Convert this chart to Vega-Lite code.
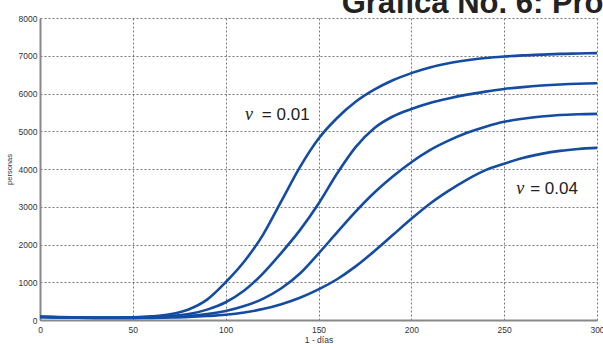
{
  "$schema": "https://vega.github.io/schema/vega-lite/v6.json",
  "width": 557,
  "height": 302,
  "autosize": {"type": "none"},
  "padding": {"left": 40, "top": 18, "right": 6, "bottom": 24},
  "background": "white",
  "config": {
    "view": {"stroke": null},
    "axis": {"domainColor": "#888888", "domainWidth": 2, "labelFont": "Liberation Sans", "labelFontSize": 8.5, "labelColor": "#333333", "ticks": false, "gridColor": "#555555", "gridDash": [2, 2], "gridWidth": 0.8, "titleFont": "Liberation Sans", "titleFontWeight": "normal", "titleColor": "#333333", "labelFlush": false, "labelOverlap": false, "labelBound": false, "labelSeparation": 0}
  },
  "datasets": {
    "curves": [
      {"day": 0, "v": "0.01", "n": 90}, {"day": 10, "v": "0.01", "n": 78}, {"day": 20, "v": "0.01", "n": 68}, {"day": 30, "v": "0.01", "n": 62}, {"day": 40, "v": "0.01", "n": 62}, {"day": 50, "v": "0.01", "n": 70}, {"day": 60, "v": "0.01", "n": 95}, {"day": 70, "v": "0.01", "n": 150}, {"day": 80, "v": "0.01", "n": 280}, {"day": 90, "v": "0.01", "n": 540}, {"day": 100, "v": "0.01", "n": 1000}, {"day": 110, "v": "0.01", "n": 1550}, {"day": 120, "v": "0.01", "n": 2250}, {"day": 130, "v": "0.01", "n": 3150}, {"day": 140, "v": "0.01", "n": 4050}, {"day": 150, "v": "0.01", "n": 4800}, {"day": 160, "v": "0.01", "n": 5350}, {"day": 170, "v": "0.01", "n": 5780}, {"day": 180, "v": "0.01", "n": 6100}, {"day": 190, "v": "0.01", "n": 6350}, {"day": 200, "v": "0.01", "n": 6540}, {"day": 210, "v": "0.01", "n": 6690}, {"day": 220, "v": "0.01", "n": 6800}, {"day": 230, "v": "0.01", "n": 6880}, {"day": 240, "v": "0.01", "n": 6940}, {"day": 250, "v": "0.01", "n": 6980}, {"day": 260, "v": "0.01", "n": 7010}, {"day": 270, "v": "0.01", "n": 7030}, {"day": 280, "v": "0.01", "n": 7050}, {"day": 290, "v": "0.01", "n": 7060}, {"day": 300, "v": "0.01", "n": 7070},
      {"day": 0, "v": "0.02", "n": 85}, {"day": 10, "v": "0.02", "n": 74}, {"day": 20, "v": "0.02", "n": 65}, {"day": 30, "v": "0.02", "n": 60}, {"day": 40, "v": "0.02", "n": 58}, {"day": 50, "v": "0.02", "n": 62}, {"day": 60, "v": "0.02", "n": 75}, {"day": 70, "v": "0.02", "n": 100}, {"day": 80, "v": "0.02", "n": 155}, {"day": 90, "v": "0.02", "n": 275}, {"day": 100, "v": "0.02", "n": 470}, {"day": 110, "v": "0.02", "n": 780}, {"day": 120, "v": "0.02", "n": 1230}, {"day": 130, "v": "0.02", "n": 1780}, {"day": 140, "v": "0.02", "n": 2380}, {"day": 150, "v": "0.02", "n": 3080}, {"day": 160, "v": "0.02", "n": 3880}, {"day": 170, "v": "0.02", "n": 4580}, {"day": 180, "v": "0.02", "n": 5080}, {"day": 190, "v": "0.02", "n": 5390}, {"day": 200, "v": "0.02", "n": 5590}, {"day": 210, "v": "0.02", "n": 5750}, {"day": 220, "v": "0.02", "n": 5870}, {"day": 230, "v": "0.02", "n": 5970}, {"day": 240, "v": "0.02", "n": 6050}, {"day": 250, "v": "0.02", "n": 6120}, {"day": 260, "v": "0.02", "n": 6170}, {"day": 270, "v": "0.02", "n": 6210}, {"day": 280, "v": "0.02", "n": 6240}, {"day": 290, "v": "0.02", "n": 6260}, {"day": 300, "v": "0.02", "n": 6270},
      {"day": 0, "v": "0.03", "n": 80}, {"day": 10, "v": "0.03", "n": 70}, {"day": 20, "v": "0.03", "n": 62}, {"day": 30, "v": "0.03", "n": 57}, {"day": 40, "v": "0.03", "n": 55}, {"day": 50, "v": "0.03", "n": 57}, {"day": 60, "v": "0.03", "n": 65}, {"day": 70, "v": "0.03", "n": 80}, {"day": 80, "v": "0.03", "n": 110}, {"day": 90, "v": "0.03", "n": 160}, {"day": 100, "v": "0.03", "n": 240}, {"day": 110, "v": "0.03", "n": 370}, {"day": 120, "v": "0.03", "n": 560}, {"day": 130, "v": "0.03", "n": 840}, {"day": 140, "v": "0.03", "n": 1230}, {"day": 150, "v": "0.03", "n": 1760}, {"day": 160, "v": "0.03", "n": 2320}, {"day": 170, "v": "0.03", "n": 2870}, {"day": 180, "v": "0.03", "n": 3370}, {"day": 190, "v": "0.03", "n": 3800}, {"day": 200, "v": "0.03", "n": 4180}, {"day": 210, "v": "0.03", "n": 4500}, {"day": 220, "v": "0.03", "n": 4750}, {"day": 230, "v": "0.03", "n": 4960}, {"day": 240, "v": "0.03", "n": 5120}, {"day": 250, "v": "0.03", "n": 5250}, {"day": 260, "v": "0.03", "n": 5330}, {"day": 270, "v": "0.03", "n": 5390}, {"day": 280, "v": "0.03", "n": 5430}, {"day": 290, "v": "0.03", "n": 5450}, {"day": 300, "v": "0.03", "n": 5460},
      {"day": 0, "v": "0.04", "n": 75}, {"day": 10, "v": "0.04", "n": 66}, {"day": 20, "v": "0.04", "n": 58}, {"day": 30, "v": "0.04", "n": 54}, {"day": 40, "v": "0.04", "n": 52}, {"day": 50, "v": "0.04", "n": 52}, {"day": 60, "v": "0.04", "n": 55}, {"day": 70, "v": "0.04", "n": 65}, {"day": 80, "v": "0.04", "n": 80}, {"day": 90, "v": "0.04", "n": 105}, {"day": 100, "v": "0.04", "n": 140}, {"day": 110, "v": "0.04", "n": 200}, {"day": 120, "v": "0.04", "n": 290}, {"day": 130, "v": "0.04", "n": 420}, {"day": 140, "v": "0.04", "n": 590}, {"day": 150, "v": "0.04", "n": 810}, {"day": 160, "v": "0.04", "n": 1080}, {"day": 170, "v": "0.04", "n": 1420}, {"day": 180, "v": "0.04", "n": 1820}, {"day": 190, "v": "0.04", "n": 2250}, {"day": 200, "v": "0.04", "n": 2680}, {"day": 210, "v": "0.04", "n": 3080}, {"day": 220, "v": "0.04", "n": 3420}, {"day": 230, "v": "0.04", "n": 3720}, {"day": 240, "v": "0.04", "n": 3970}, {"day": 250, "v": "0.04", "n": 4140}, {"day": 260, "v": "0.04", "n": 4290}, {"day": 270, "v": "0.04", "n": 4400}, {"day": 280, "v": "0.04", "n": 4480}, {"day": 290, "v": "0.04", "n": 4530}, {"day": 300, "v": "0.04", "n": 4560}
    ],
    "heading": [
      {"day": 162.5, "n": 8135, "t": "Gráfica No. 6: Proyección"}
    ],
    "nu": [
      {"day": 110.4, "n": 5430, "t": "ν"},
      {"day": 256.5, "n": 3470, "t": "ν"}
    ],
    "eq": [
      {"day": 119.5, "n": 5430, "t": "= 0.01"},
      {"day": 264, "n": 3470, "t": "= 0.04"}
    ]
  },
  "layer": [
    {
      "data": {"name": "curves"},
      "mark": {"type": "line", "interpolate": "monotone", "strokeWidth": 2.6, "color": "#134ca1"},
      "encoding": {
        "x": {"field": "day", "type": "quantitative", "scale": {"domain": [0, 300], "nice": false}, "axis": {"tickCount": 6, "title": "1 - días", "titleFontSize": 8.5, "labelPadding": 5, "titlePadding": 2}},
        "y": {"field": "n", "type": "quantitative", "scale": {"domain": [0, 8000], "nice": false}, "axis": {"tickCount": 8, "format": "d", "title": "personas", "titleFontSize": 7.5, "labelPadding": 3, "titlePadding": 5}},
        "detail": {"field": "v", "type": "nominal"}
      }
    },
    {
      "data": {"name": "heading"},
      "mark": {"type": "text", "align": "left", "baseline": "alphabetic", "font": "Liberation Sans", "fontWeight": "bold", "fontSize": 31, "color": "#222222", "clip": false},
      "encoding": {
        "x": {"field": "day", "type": "quantitative"},
        "y": {"field": "n", "type": "quantitative"},
        "text": {"field": "t"}
      }
    },
    {
      "data": {"name": "nu"},
      "mark": {"type": "text", "align": "left", "baseline": "middle", "font": "Liberation Serif", "fontStyle": "italic", "fontSize": 18, "color": "#222222"},
      "encoding": {
        "x": {"field": "day", "type": "quantitative"},
        "y": {"field": "n", "type": "quantitative"},
        "text": {"field": "t"}
      }
    },
    {
      "data": {"name": "eq"},
      "mark": {"type": "text", "align": "left", "baseline": "middle", "font": "Liberation Sans", "fontSize": 17, "color": "#222222"},
      "encoding": {
        "x": {"field": "day", "type": "quantitative"},
        "y": {"field": "n", "type": "quantitative"},
        "text": {"field": "t"}
      }
    }
  ]
}
